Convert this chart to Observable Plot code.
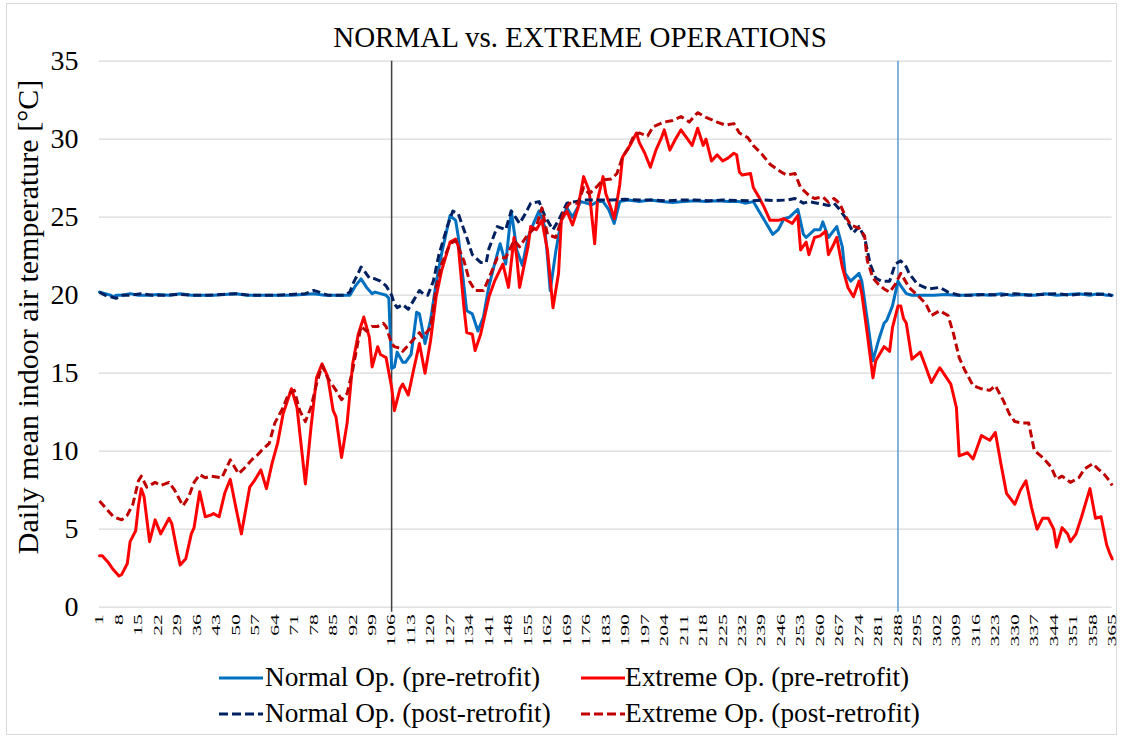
<!DOCTYPE html>
<html>
<head>
<meta charset="utf-8">
<script src="https://cdn.jsdelivr.net/npm/d3@7"></script>
<script src="https://cdn.jsdelivr.net/npm/@observablehq/plot@0.6"></script>
<style>
  html, body { margin: 0; padding: 0; background: #fff; }
  #wrap { position: relative; width: 1123px; height: 740px; font-family: "Liberation Serif", "Times New Roman", serif; color: #000; overflow: hidden; }
  #frame { position: absolute; left: 6px; top: 3px; width: 1111px; height: 732px; border: 1px solid #d9d9d9; box-sizing: border-box; }
  #title { position: absolute; top: 22.5px; left: 280px; width: 600px; text-align: center; font-size: 29px; line-height: 1; white-space: nowrap; }
  #ylab { position: absolute; left: 28px; top: 317px; font-size: 30px; line-height: 1; white-space: nowrap; transform: translate(-50%, -50%) rotate(-90deg); }
  #chart { position: absolute; left: 0; top: 0; }
  .leg { position: absolute; font-size: 27.3px; line-height: 1; white-space: nowrap; }
  .sw { position: absolute; }
</style>
</head>
<body>
<div id="wrap">
  <div id="frame"></div>
  <div id="chart"></div>
  <div id="title">NORMAL vs. EXTREME OPERATIONS</div>
  <div id="ylab"></div>
  <div id="legend"></div>
</div>
<script>
// ---- Data (day of year, daily mean indoor air temperature °C) ----
const normalPre = [
 [1,20.2],[3,20.1],[5,20.0],[6,19.9],[7,20.0],[9,20.0],[12,20.1],[15,20.0],[19,20.0],[22,20.05],[26,20.0],[30,20.1],
 [34,20.0],[38,20.0],[42,20.0],[46,20.05],[50,20.1],[54,20.0],[58,20.0],[62,20.0],[66,20.0],[70,20.0],[74,20.05],
 [78,20.1],[82,20.0],[86,20.0],[90,20.0],[91,20.0],[93,20.6],[95,21.05],[97,20.5],[99,20.1],[100,20.2],[102,20.1],
 [104,20.0],[105,19.8],[106,15.3],[107,15.4],[108,16.35],[110,15.7],[111,15.7],[113,16.2],[115,18.9],[116,18.8],
 [118,16.9],[120,18.4],[122,20.8],[124,22.7],[127,25.1],[129,24.8],[130,23.7],[133,19.0],[135,18.8],[137,17.7],
 [139,18.6],[141,20.6],[143,22.0],[145,23.3],[147,22.0],[149,25.4],[151,22.9],[153,21.9],[155,23.7],[157,24.6],
 [159,25.4],[161,24.4],[162,22.5],[163,20.3],[165,22.8],[167,24.8],[169,25.6],[171,25.0],[174,26.0],[176,25.9],
 [178,25.8],[180,26.0],[182,26.0],[184,25.5],[186,24.6],[188,26.0],[191,26.1],[195,26.0],[199,26.1],[203,26.0],
 [207,25.95],[211,26.0],[215,26.05],[219,26.0],[223,26.05],[227,26.0],[231,26.0],[233,25.9],[236,26.0],[238,25.4],
 [240,24.8],[243,23.9],[245,24.2],[247,24.9],[249,25.0],[252,25.5],[254,23.9],[255,23.7],[258,24.2],[260,24.2],
 [261,24.7],[263,23.7],[266,24.4],[268,23.1],[269,21.4],[271,20.9],[274,21.4],[275,20.9],[277,18.4],[279,15.8],
 [281,17.1],[283,18.2],[284,18.4],[286,19.3],[288,20.9],[289,20.6],[291,20.1],[293,20.0],[297,20.0],[301,20.0],
 [305,20.05],[309,20.0],[313,20.0],[317,20.05],[321,20.0],[325,20.1],[329,20.0],[333,20.05],[337,20.0],[341,20.1],
 [345,20.0],[349,20.05],[353,20.1],[357,20.0],[360,20.1],[363,20.0],[365,20.0]
];
const extremePre = [
 [1,3.3],[2,3.3],[4,2.9],[6,2.4],[8,2.0],[9,2.1],[11,2.8],[12,4.2],[14,4.9],[15,6.5],[16,7.6],[17,7.1],[19,4.2],
 [21,5.6],[23,4.7],[26,5.7],[27,5.35],[29,3.5],[30,2.7],[32,3.1],[34,4.7],[35,5.1],[37,7.4],[39,5.8],[41,5.9],
 [42,6.0],[44,5.8],[46,7.3],[48,8.2],[50,6.4],[52,4.7],[55,7.7],[57,8.2],[59,8.8],[61,7.6],[63,9.2],[65,10.5],
 [67,12.4],[70,14.0],[72,12.8],[75,7.9],[77,11.5],[79,14.7],[81,15.6],[83,14.8],[85,12.6],[86,12.2],[88,9.6],
 [90,11.8],[92,15.6],[94,17.5],[96,18.6],[98,17.3],[99,15.4],[101,16.7],[102,16.2],[104,16.0],[106,14.1],[107,12.6],
 [109,14.0],[110,14.3],[112,13.6],[114,15.3],[116,16.9],[118,15.0],[120,17.1],[122,19.9],[124,21.6],[127,23.4],
 [129,23.6],[130,23.1],[132,19.2],[133,17.6],[135,17.5],[136,16.45],[138,17.5],[141,19.9],[143,20.9],[146,22.0],
 [148,20.5],[150,23.7],[151,22.4],[152,20.5],[155,23.1],[156,24.4],[158,24.2],[160,24.8],[162,22.9],[164,19.2],
 [166,21.4],[167,24.8],[169,25.4],[171,24.5],[173,25.6],[175,27.6],[177,26.7],[179,23.3],[180,26.1],[182,27.6],
 [183,26.5],[185,25.5],[186,24.9],[188,27.1],[189,28.85],[192,29.7],[194,30.4],[195,29.8],[197,29.1],[199,28.2],
 [201,29.3],[203,30.1],[204,30.6],[206,29.3],[208,30.0],[210,30.6],[212,30.1],[214,29.6],[216,30.7],[218,29.6],
 [219,30.0],[221,28.6],[223,29.0],[225,28.6],[227,28.8],[229,29.1],[230,29.0],[231,27.9],[232,27.7],[235,27.8],
 [236,26.9],[238,26.3],[240,25.6],[242,24.8],[245,24.8],[247,24.9],[250,24.6],[252,25.1],[253,22.9],[255,23.4],
 [256,22.6],[258,23.7],[260,23.8],[262,24.1],[263,22.6],[265,23.3],[266,23.7],[268,21.8],[270,20.5],[272,19.9],
 [274,20.9],[275,20.1],[277,17.5],[279,14.7],[280,15.8],[283,16.7],[285,16.4],[286,17.9],[288,19.3],[289,19.3],
 [290,18.5],[291,18.2],[293,15.9],[296,16.35],[298,15.4],[300,14.4],[303,15.35],[304,15.1],[307,14.3],[309,12.8],
 [310,9.7],[313,9.9],[315,9.5],[318,11.0],[321,10.7],[323,11.2],[325,9.2],[327,7.3],[330,6.6],[332,7.5],[334,8.1],
 [336,6.4],[338,5.0],[340,5.7],[342,5.7],[344,5.0],[345,3.85],[346,4.5],[347,5.1],[349,4.7],[350,4.2],[352,4.7],
 [354,5.8],[357,7.6],[359,5.7],[361,5.8],[363,4.0],[364,3.5],[365,3.1]
];
const normalPost = [
 [1,20.2],[3,20.0],[5,19.9],[7,19.8],[9,20.0],[12,20.0],[16,20.1],[20,20.0],[25,20.0],[30,20.05],[35,20.0],
 [40,20.0],[45,20.05],[50,20.1],[55,20.0],[60,20.0],[65,20.0],[70,20.05],[75,20.1],[78,20.3],[80,20.2],[83,20.0],
 [86,20.0],[89,20.0],[91,20.2],[92,20.7],[94,21.4],[95,21.8],[96,21.6],[98,21.1],[100,21.05],[102,20.9],[104,20.6],
 [106,20.0],[107,19.45],[108,19.2],[110,19.4],[112,19.1],[114,19.7],[116,20.3],[118,20.0],[119,20.0],[121,20.9],
 [123,22.6],[126,24.4],[128,25.4],[130,25.2],[133,23.7],[135,22.6],[138,22.1],[140,22.1],[141,23.0],[144,24.4],
 [147,24.2],[149,25.4],[152,24.6],[154,25.2],[156,25.9],[159,26.0],[161,25.1],[164,24.2],[166,24.8],[169,25.9],
 [172,26.0],[175,26.1],[180,26.1],[185,26.1],[190,26.15],[195,26.1],[200,26.1],[205,26.05],[210,26.1],[215,26.1],
 [220,26.05],[225,26.1],[230,26.07],[235,26.05],[240,26.1],[244,26.07],[248,26.1],[251,26.2],[254,25.9],[256,26.0],
 [259,25.9],[263,25.75],[265,25.9],[267,25.5],[269,25.0],[272,24.0],[274,24.4],[276,23.7],[278,22.0],[280,21.1],
 [282,20.9],[285,20.9],[287,22.0],[289,22.2],[291,21.8],[292,21.4],[295,20.7],[299,20.4],[303,20.5],[306,20.2],
 [310,20.0],[315,20.0],[320,20.05],[325,20.0],[330,20.1],[335,20.0],[340,20.05],[345,20.1],[350,20.0],[355,20.1],
 [360,20.05],[363,20.1],[365,19.95]
];
const extremePost = [
 [1,6.8],[4,6.2],[6,5.8],[9,5.6],[11,5.9],[13,6.6],[15,8.1],[16,8.4],[18,7.7],[21,8.0],[23,7.8],[26,8.0],[28,7.5],
 [31,6.5],[33,7.05],[35,8.0],[37,8.5],[39,8.3],[41,8.4],[45,8.3],[48,9.45],[51,8.55],[53,8.9],[56,9.5],[58,9.8],
 [59,10.0],[62,10.5],[64,11.8],[67,12.8],[69,13.7],[71,13.9],[73,12.6],[75,11.9],[77,12.8],[79,14.3],[81,15.5],
 [83,14.7],[86,13.9],[88,13.3],[90,13.7],[92,15.2],[94,17.1],[95,18.0],[97,17.7],[99,18.0],[101,18.0],[103,18.2],
 [104,18.0],[106,16.9],[107,16.7],[109,16.6],[110,16.4],[112,16.8],[114,17.2],[116,17.6],[117,17.3],[120,17.9],
 [122,20.5],[124,22.0],[127,23.3],[129,23.5],[132,22.2],[134,20.9],[136,20.3],[139,20.3],[141,21.1],[144,22.4],
 [147,22.4],[150,23.5],[152,23.1],[155,23.9],[158,24.4],[160,25.6],[162,23.9],[165,23.7],[168,25.4],[170,25.9],
 [173,25.9],[175,26.9],[177,26.5],[180,27.0],[182,27.4],[185,27.45],[187,27.8],[189,28.85],[191,29.4],[193,30.2],
 [195,30.4],[198,30.2],[200,30.8],[204,31.1],[207,31.2],[210,31.45],[213,31.1],[216,31.7],[219,31.4],[223,31.1],
 [226,30.9],[229,31.0],[231,30.4],[234,30.1],[236,29.6],[239,29.06],[242,28.4],[246,27.9],[248,27.7],[251,27.8],
 [253,26.9],[256,26.4],[258,26.2],[261,26.3],[263,25.96],[265,26.2],[267,25.9],[269,25.1],[271,24.5],[274,24.3],
 [276,23.8],[277,22.2],[279,21.1],[281,20.7],[283,20.4],[285,20.2],[287,20.7],[289,21.4],[292,20.5],[295,20.0],
 [298,19.45],[300,18.7],[303,19.0],[306,18.7],[308,17.5],[310,16.0],[312,15.2],[315,14.2],[318,14.0],[321,13.9],
 [323,14.2],[326,13.2],[328,12.4],[330,11.9],[333,11.8],[335,11.8],[337,10.05],[340,9.6],[343,9.0],[345,8.2],
 [347,8.4],[350,8.0],[353,8.3],[355,8.85],[358,9.2],[360,8.85],[362,8.55],[364,8.1],[365,7.8]
];
const xTicks = [1,8,15,22,29,36,43,50,57,64,71,78,85,92,99,106,113,120,127,134,141,148,155,162,169,176,183,
 190,197,204,211,218,225,232,239,246,253,260,267,274,281,288,295,302,309,316,323,330,337,344,351,358,365];
const yTicks = [0,5,10,15,20,25,30,35];
const markerDays = [106, 288];
const yTitle = "Daily mean indoor air temperature [°C]";
const seriesNames = ["Normal Op. (pre-retrofit)", "Extreme Op. (pre-retrofit)", "Normal Op. (post-retrofit)", "Extreme Op. (post-retrofit)"];

// ---- Styles ----
const seriesStyle = [
  {data: normalPre,  stroke: "#0070C0", dash: null},
  {data: extremePre, stroke: "#FF0000", dash: null},
  {data: normalPost, stroke: "#002060", dash: "8,4"},
  {data: extremePost,stroke: "#C00000", dash: "8,4"}
];
const H = 660;
const chart = Plot.plot({
  width: 1123,
  height: H,
  marginLeft: 99,
  marginRight: 11.3,
  marginTop: 60.7,
  marginBottom: H - 606.7,
  style: {fontFamily: '"Liberation Serif", "Times New Roman", serif', color: "#000", background: "transparent"},
  x: {domain: [1, 365]},
  y: {domain: [0, 35]},
  marks: [
    Plot.ruleY(yTicks, {stroke: "#d9d9d9", strokeWidth: 1.3}),
    Plot.ruleX([markerDays[0]], {stroke: "#404040", strokeWidth: 1.5, insetBottom: -5}),
    Plot.ruleX([markerDays[1]], {stroke: "#5B9BD5", strokeWidth: 1.5, insetBottom: -5}),
    ...seriesStyle.map(s => Plot.line(s.data, {
      x: d => d[0], y: d => d[1], stroke: s.stroke, strokeWidth: 3,
      strokeDasharray: s.dash, strokeLinejoin: "round", strokeLinecap: s.dash ? "butt" : "round"
    })),
    Plot.axisY({ticks: yTicks, tickSize: 0, tickPadding: 21, fontSize: 28, label: null}),
    Plot.axisX({ticks: xTicks, tickFormat: d => String(d), tickRotate: -90, tickSize: 0, tickPadding: 7, fontSize: 12, label: null})
  ]
});
document.getElementById("chart").appendChild(chart);
document.getElementById("ylab").textContent = yTitle;

// stretch rotated x tick labels along their text direction (as in the reference)
chart.querySelectorAll('g[aria-label="x-axis tick label"] text').forEach(t => {
  const tr = t.getAttribute("transform") || "";
  t.setAttribute("transform", tr + " scale(1.8,1)");
});

// ---- Legend ----
const legend = document.getElementById("legend");
const legPos = [
  {sx: 218, tx: 265, top: 664},
  {sx: 580, tx: 625, top: 664},
  {sx: 218, tx: 265, top: 700},
  {sx: 580, tx: 625, top: 700}
];
seriesStyle.forEach((s, i) => {
  const p = legPos[i];
  const sw = document.createElementNS("http://www.w3.org/2000/svg", "svg");
  sw.setAttribute("width", 46); sw.setAttribute("height", 10);
  sw.setAttribute("class", "sw");
  sw.style.left = p.sx + "px"; sw.style.top = (p.top + 9) + "px";
  const ln = document.createElementNS("http://www.w3.org/2000/svg", "line");
  ln.setAttribute("x1", 1); ln.setAttribute("x2", 45); ln.setAttribute("y1", 5); ln.setAttribute("y2", 5);
  ln.setAttribute("stroke", s.stroke); ln.setAttribute("stroke-width", 3);
  if (s.dash) ln.setAttribute("stroke-dasharray", "9,4");
  sw.appendChild(ln);
  legend.appendChild(sw);
  const tx = document.createElement("div");
  tx.className = "leg";
  tx.style.left = p.tx + "px"; tx.style.top = p.top + "px";
  tx.textContent = seriesNames[i];
  legend.appendChild(tx);
});
</script>
</body>
</html>
